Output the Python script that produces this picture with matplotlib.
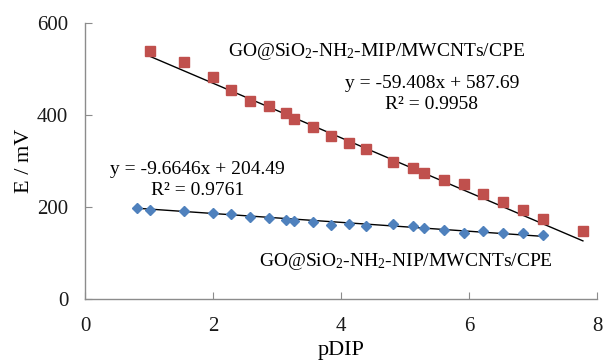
import numpy as np
import matplotlib
matplotlib.use("Agg")
import matplotlib.pyplot as plt

plt.rcParams["font.family"] = ["Liberation Serif", "DejaVu Serif"]
plt.rcParams["mathtext.fontset"] = "custom"
plt.rcParams["mathtext.rm"] = "Liberation Serif"
plt.rcParams["mathtext.it"] = "Liberation Serif:italic"

# pDIP values
mip_x = [1.02, 1.54, 2.00, 2.28, 2.58, 2.88, 3.14, 3.27, 3.56, 3.85, 4.13,
         4.39, 4.81, 5.12, 5.30, 5.61, 5.92, 6.22, 6.53, 6.84, 7.15, 7.78]
mip_y = [539, 514, 482, 454, 431, 419, 405, 390, 374, 354, 338,
         326, 298, 284, 273, 259, 249, 227, 210, 193, 173, 147]

nip_x = [0.82, 1.02, 1.54, 2.00, 2.28, 2.58, 2.88, 3.14, 3.27, 3.56, 3.85,
         4.13, 4.39, 4.81, 5.12, 5.30, 5.61, 5.92, 6.22, 6.53, 6.84, 7.15]
nip_y = [198, 193, 191, 187, 184, 177, 175, 170, 169, 166, 160,
         162, 157, 162, 157, 153, 149, 143, 148, 143, 142, 138]

# trendline coefficients (slope, intercept)
mip_fit = (-59.408, 587.69)
nip_fit = (-9.6646, 204.49)

fig = plt.figure(figsize=(6.14, 3.61), dpi=100)
ax = fig.add_axes([0.1384, 0.1731, 0.9723 - 0.1384, 0.9363 - 0.1731])

# trend lines over each series' range
for xs, (m, b) in [(mip_x, mip_fit), (nip_x, nip_fit)]:
    xl = np.array([min(xs), max(xs)])
    ax.plot(xl, m * xl + b, color="black", linewidth=1.0, zorder=2)

ax.plot(mip_x, mip_y, linestyle="none", marker="s", markersize=7,
        color="#C0504D", zorder=3)
ax.plot(nip_x, nip_y, linestyle="none", marker="D", markersize=5.5,
        color="#4F81BD", zorder=3)

ax.set_xlim(0, 8)
ax.set_ylim(0, 600)
ax.set_xticks([0, 2, 4, 6, 8])
ax.set_yticks([0, 200, 400, 600])

for s in ["top", "right"]:
    ax.spines[s].set_visible(False)
for s in ["left", "bottom"]:
    ax.spines[s].set_color("#8c8c8c")
    ax.spines[s].set_linewidth(1.0)
ax.tick_params(direction="in", length=5, color="#8c8c8c", labelsize=15,
               labelcolor="#1a1a1a")
ax.tick_params(axis="x", pad=13)
ax.tick_params(axis="y", pad=12)

ax.set_xlabel("pDIP", fontsize=16, labelpad=4)
ax.set_ylabel("E / mV", fontsize=16, labelpad=2)

fs = 14
ax.text(4.56, 538, r"GO@SiO$_2$-NH$_2$-MIP/MWCNTs/CPE", fontsize=fs,
        ha="center", va="center")
ax.text(5.42, 468, "y = -59.408x + 587.69", fontsize=fs,
        ha="center", va="center")
ax.text(5.41, 422, "R² = 0.9958", fontsize=fs, ha="center", va="center")
ax.text(1.76, 282, "y = -9.6646x + 204.49", fontsize=fs,
        ha="center", va="center")
ax.text(1.76, 236, "R² = 0.9761", fontsize=fs, ha="center", va="center")
ax.text(5.02, 80, r"GO@SiO$_2$-NH$_2$-NIP/MWCNTs/CPE", fontsize=fs,
        ha="center", va="center")

fig.savefig("out.png", dpi=100)
